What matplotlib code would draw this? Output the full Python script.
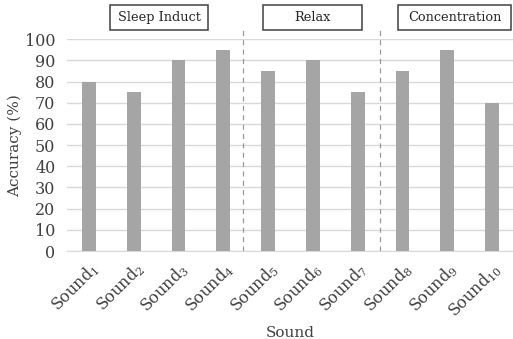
import matplotlib
matplotlib.use("Agg")
import matplotlib.pyplot as plt
from matplotlib.patches import Rectangle

plt.rcParams['font.family'] = ['DejaVu Serif']
plt.rcParams['mathtext.fontset'] = 'dejavuserif'

sounds = [f"Sound$_{{{i}}}$" for i in range(1, 11)]
accuracy = [80, 75, 90, 95, 85, 90, 75, 85, 95, 70]
groups = ["Sleep Induct", "Relax", "Concentration"]
yticks = [0, 10, 20, 30, 40, 50, 60, 70, 80, 90, 100]

W, H = 513, 339
fig = plt.figure(figsize=(W / 100, H / 100), dpi=100)
left, right, bottom, top = 66.6, 514.4, 251, 39.3
ax = fig.add_axes([left / W, (H - bottom) / H, (right - left) / W, (bottom - top) / H])

x = list(range(len(sounds)))
ax.bar(x, accuracy, width=0.31, color='#a5a5a5', zorder=3)
ax.set_xlim(-0.5, 9.5)
ax.set_ylim(0, 100)
ax.set_yticks(yticks)
ax.set_yticklabels([str(v) for v in yticks], fontsize=11.5, color='#404040')
ax.set_xticks(x)
ax.set_xticklabels(sounds, rotation=45, ha='right', va='top', rotation_mode='anchor',
                   fontsize=11.5, color='#404040')
ax.tick_params(axis='both', length=0)
ax.tick_params(axis='x', pad=6)
ax.tick_params(axis='y', pad=8)
ax.grid(axis='y', color='#d9d9d9', linewidth=1, zorder=0)
for s in ['top', 'right', 'left']:
    ax.spines[s].set_visible(False)
ax.spines['bottom'].set_color('#d9d9d9')
ax.set_ylabel('Accuracy (%)', fontsize=11, color='#404040', labelpad=2)
ax.set_xlabel('Sound', fontsize=11, color='#404040', labelpad=4)

for xv in [3.45, 6.5]:
    ax.plot([xv, xv], [0, 105.5], linestyle=(0, (4, 3.5)), color='#999999', linewidth=0.9,
            clip_on=False, zorder=2)

box_px = [(110, 208), (263, 362), (398, 511)]
y0, y1 = 5, 30
for g, (bx0, bx1) in zip(groups, box_px):
    fig.patches.append(Rectangle((bx0 / W, 1 - y1 / H), (bx1 - bx0) / W, (y1 - y0) / H,
                                 transform=fig.transFigure, fc='white', ec='#404040', lw=1.1))
    fig.text((bx0 + bx1) / 2 / W, 1 - (y0 + y1) / 2 / H, g, ha='center', va='center',
             fontsize=9.3, color='#262626')

fig.savefig('out.png', dpi=100)
